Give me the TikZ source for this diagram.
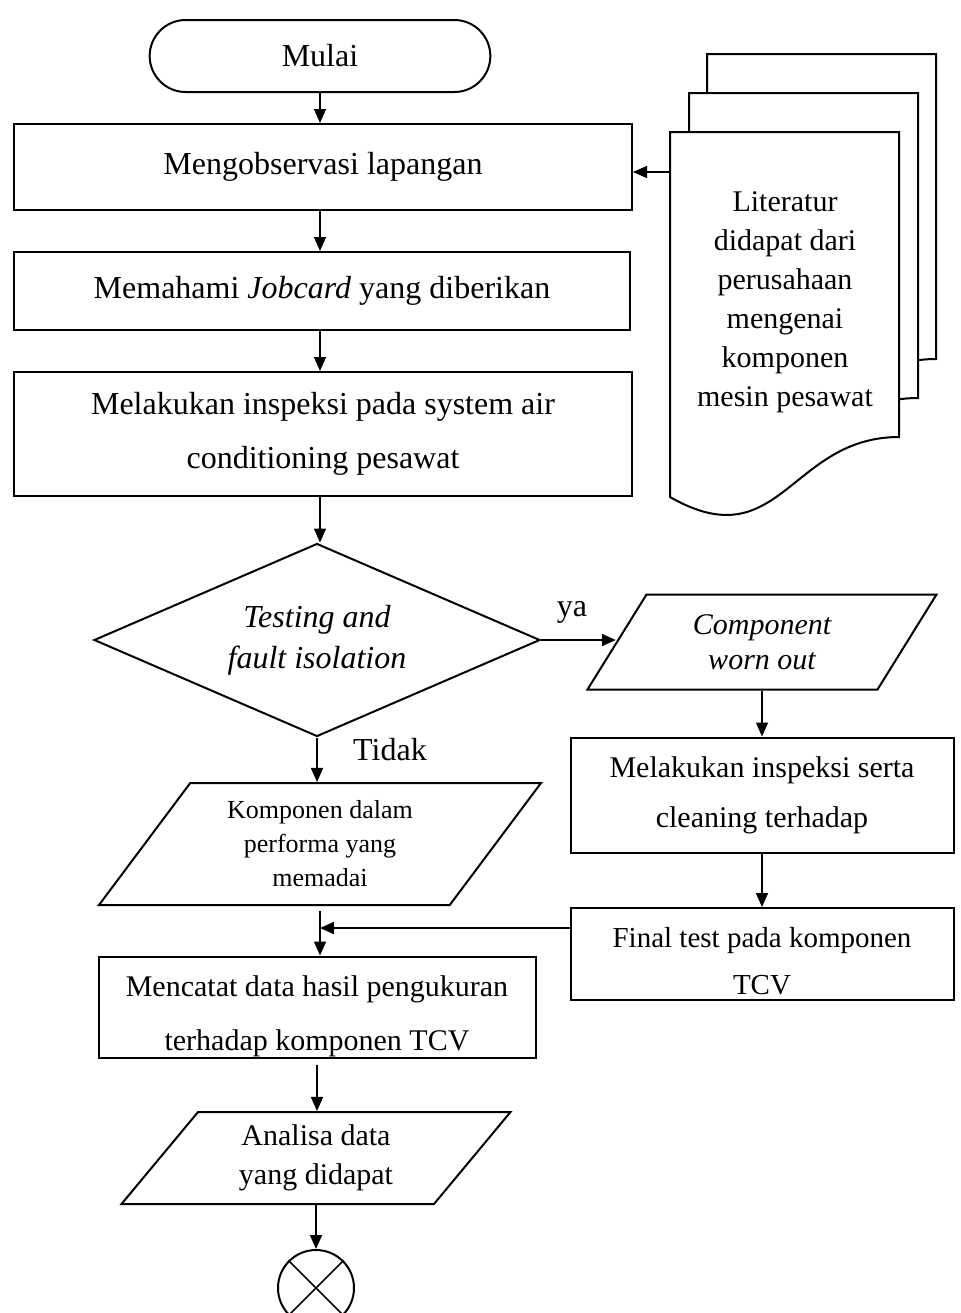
\documentclass[tikz,border=0pt]{standalone}
\usepackage{fontspec}
\setmainfont{Liberation Serif}
\usetikzlibrary{shapes.geometric,shapes.misc,arrows.meta}

\tikzset{
  proses/.style={draw,line width=1pt,rectangle,align=center,font=\fontsize{16}{27}\selectfont},
  data/.style={draw,line width=1pt,trapezium,trapezium stretches body,align=center,inner sep=0pt,font=\fontsize{15}{19.5}\selectfont},
  keputusan/.style={draw,line width=1pt,diamond,shape aspect=2.31,align=center,inner sep=0pt,font=\itshape\fontsize{16}{20.5}\selectfont},
  terminal/.style={draw,line width=1pt,rounded rectangle,font=\fontsize{16}{20}\selectfont},
  halaman/.style={draw,line width=1pt,fill=white},
  arr/.style={-{Triangle[length=7pt,width=6pt]},line width=0.75pt}
}

\begin{document}
\begin{tikzpicture}[x=0.5pt,y=-0.5pt]
    \useasboundingbox (0,0) rectangle (960,1313);

    % tumpukan dokumen literatur
    \foreach \dx/\dy in {37/-78, 19/-39, 0/0}
        \draw[halaman, shift={(\dx,\dy)}] (670,132) -- (899,132) -- (899,437)
            .. controls (790,437) and (780,560) .. (670,497) -- cycle;
    \node[font=\fontsize{15}{19.5}\selectfont, align=center] (lit) at (785,302)
        {Literatur\\didapat dari\\perusahaan\\mengenai\\komponen\\mesin pesawat};
    \coordinate (litin) at (670,172);

    % kolom kiri
    \node[terminal, minimum width=177pt, minimum height=36pt] (mulai) at (320,56) {Mulai};
    \node[proses, minimum width=309pt, minimum height=43pt] (obs) at (323,167) {Mengobservasi lapangan};
    \node[proses, minimum width=308pt, minimum height=39pt] (job) at (322,291) {Memahami \textit{Jobcard} yang diberikan};
    \node[proses, minimum width=309pt, minimum height=62pt] (insp) at (323,434)
        {Melakukan inspeksi pada system air\\conditioning pesawat};
    \node[keputusan, minimum width=223pt, minimum height=96.5pt] (test) at (317,640)
        {Testing and\\fault isolation};
    \node[data, trapezium left angle=43.4, trapezium right angle=136.6, minimum width=221pt, minimum height=61pt,
        font=\fontsize{13}{17}\selectfont] (kom) at (320,844) {Komponen dalam\\performa yang\\memadai};
    \node[proses, inner ysep=0pt, minimum width=218.5pt, minimum height=50.5pt, font=\fontsize{15}{27}\selectfont] (catat) at (317,1007)
        {\rule{0pt}{19.5pt}Mencatat data hasil pengukuran\\terhadap komponen TCV};
    \node[data, trapezium left angle=40.9, trapezium right angle=139.1, minimum width=194.5pt, minimum height=46pt]
        (analisa) at (316,1158) {Analisa data\\yang didapat};
    \node[draw, line width=1pt, circle, minimum size=38pt, inner sep=0pt] (selesai) at (316,1288) {};
    \draw[line width=0.75pt] (selesai.north west) -- (selesai.south east)
        (selesai.north east) -- (selesai.south west);

    % kolom kanan
    \node[data, trapezium left angle=43.1, trapezium right angle=136.9, minimum width=174.5pt, minimum height=47.5pt,
        font=\itshape\fontsize{15}{17.5}\selectfont] (worn) at (762,642) {Component\\worn out};
    \node[proses, minimum width=191.5pt, minimum height=57.5pt, font=\fontsize{15}{25}\selectfont] (bersih) at (762,795)
        {Melakukan inspeksi serta\\cleaning terhadap};
    \node[proses, inner ysep=0pt, minimum width=191.5pt, minimum height=46pt, font=\fontsize{14.5}{23.5}\selectfont] (final) at (762,954)
        {\rule{0pt}{17pt}Final test pada komponen\\TCV};

    % label
    \node[font=\fontsize{16}{20}\selectfont] (lblya) at (572,612) {ya};
    \node[font=\fontsize{16}{20}\selectfont] (lbltidak) at (390,750) {Tidak};

    % panah
    \draw[arr] (mulai.south) -- (mulai.south |- obs.north);
    \draw[arr] (litin) -- (litin -| obs.east);
    \draw[arr] (obs.south -| mulai) -- (mulai |- job.north);
    \draw[arr] (job.south -| mulai) -- (mulai |- insp.north);
    \draw[arr] (insp.south -| mulai) -- (mulai |- test.north);
    \draw[arr, line width=1pt] (test.east) -- (test.east -| worn.west);
    \draw[arr] (test.south) -- (test.south |- kom.north);
    \draw[arr] (worn.south) -- (worn.south |- bersih.north);
    \draw[arr] (bersih.south) -- (bersih.south |- final.north);
    \path (kom.south) ++(0,22) coordinate (join);
    \draw[arr] (kom.south) ++(0,5) -- (kom.south |- catat.north);
    \draw[arr, line width=1pt] (final.west |- join) -- (join);
    \draw[arr] (catat.south) ++(0,6) -- (catat.south |- analisa.north);
    \draw[arr] (analisa.south) -- (analisa.south |- selesai.north);

\end{tikzpicture}
\end{document}
